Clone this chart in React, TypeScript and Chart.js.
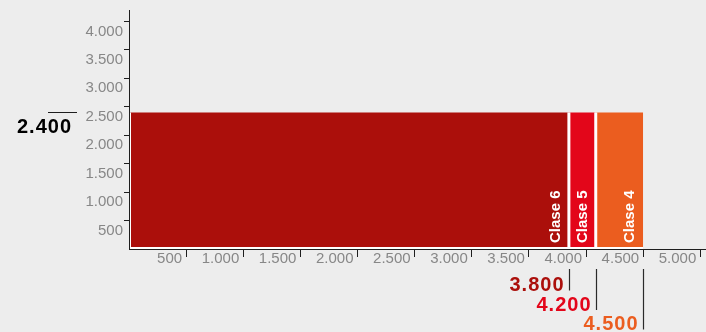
import React, { useEffect, useRef } from 'react';
import { Chart, registerables } from 'chart.js';

Chart.register(...registerables);

// ---- data ----
const classNames = ['Clase 6', 'Clase 5', 'Clase 4'];
const classStarts = [0, 3850, 4085];
const classEnds = [3850, 4085, 4500];
const classEndLabels = ['3.800', '4.200', '4.500'];
const classColors = ['#AB0F0B', '#E3061A', '#EB5D1F'];
const barHeight = 2400;
const barHeightLabel = '2.400';

const xTickValues = [500, 1000, 1500, 2000, 2500, 3000, 3500, 4000, 4500, 5000];
const xTickLabels = ['500', '1.000', '1.500', '2.000', '2.500', '3.000', '3.500', '4.000', '4.500', '5.000'];
const yTickValues = [500, 1000, 1500, 2000, 2500, 3000, 3500, 4000];
const yTickLabels = ['500', '1.000', '1.500', '2.000', '2.500', '3.000', '3.500', '4.000'];

const BG = '#EDEDED';
const TICK_GREY = '#878787';
const AXIS = '#1e1e1e';
const FONT = '"Liberation Sans", Arial, Helvetica, sans-serif';

const annotations = {
  id: 'annotations',
  beforeDraw(chart: any) {
    const { ctx, width, height } = chart;
    ctx.save();
    ctx.fillStyle = BG;
    ctx.fillRect(0, 0, width, height);
    ctx.restore();
  },
  afterDatasetsDraw(chart: any) {
    const { ctx } = chart;
    const xs = chart.scales.x;
    const ys = chart.scales.y;
    const y0 = ys.getPixelForValue(0);
    ctx.save();
    ctx.fillStyle = '#ffffff';
    ctx.font = `bold 15px ${FONT}`;
    ctx.textAlign = 'left';
    ctx.textBaseline = 'middle';
    classNames.forEach((name, i) => {
      const px = xs.getPixelForValue(classEnds[i]) - 13;
      ctx.save();
      ctx.translate(px, y0 - 6);
      ctx.rotate(-Math.PI / 2);
      ctx.fillText(name, 0, 0);
      ctx.restore();
    });
    ctx.restore();
  },
  afterDraw(chart: any) {
    const { ctx, chartArea } = chart;
    const xs = chart.scales.x;
    const ys = chart.scales.y;
    ctx.save();
    // height annotation on the left
    const hy = Math.round(ys.getPixelForValue(barHeight)) + 0.5;
    ctx.strokeStyle = AXIS;
    ctx.lineWidth = 1;
    ctx.beginPath();
    ctx.moveTo(chartArea.left - 81, hy);
    ctx.lineTo(chartArea.left - 52, hy);
    ctx.stroke();
    ctx.font = `bold 20px ${FONT}`;
    (ctx as any).letterSpacing = '1px';
    ctx.fillStyle = '#000000';
    ctx.textAlign = 'right';
    ctx.textBaseline = 'middle';
    ctx.fillText(barHeightLabel, chartArea.left - 57, hy + 15);

    // class boundary annotations below the axis
    const base = chartArea.bottom;
    classEnds.forEach((v, i) => {
      const px = Math.round(xs.getPixelForValue(v)) + 0.5;
      const ty = base + 36.5 + i * 19.5;
      ctx.strokeStyle = '#2a2a2a';
      ctx.lineWidth = 1.2;
      ctx.beginPath();
      ctx.moveTo(px, base + 20);
      ctx.lineTo(px, ty + 5);
      ctx.stroke();
      ctx.fillStyle = classColors[i];
      ctx.fillText(classEndLabels[i], px - 5, ty);
    });
    ctx.restore();
  },
};

export default function App() {
  const ref = useRef<HTMLCanvasElement | null>(null);

  useEffect(() => {
    document.body.style.margin = '0';
    document.body.style.background = BG;
    if (!ref.current) return;

    const rectDatasets = classNames.map((name, i) => ({
      label: name,
      data: [
        { x: classStarts[i], y: 0 },
        { x: classStarts[i], y: barHeight },
        { x: classEnds[i], y: barHeight },
        { x: classEnds[i], y: 0 },
      ],
      fill: 'origin',
      backgroundColor: classColors[i],
      borderColor: 'rgba(0,0,0,0)',
      borderWidth: 0,
      pointRadius: 0,
      tension: 0,
      order: 1,
    }));

    const separatorDatasets = classEnds.slice(0, -1).map((v) => ({
      label: 'sep',
      data: [
        { x: v, y: 0 },
        { x: v, y: barHeight },
      ],
      fill: false,
      borderColor: '#ffffff',
      borderWidth: 3,
      pointRadius: 0,
      tension: 0,
      order: 0,
    }));

    const baseline = {
      label: 'base',
      data: [
        { x: classStarts[0], y: barHeight },
        { x: classStarts[0], y: 0 },
        { x: classEnds[classEnds.length - 1], y: 0 },
      ],
      fill: false,
      borderColor: '#ffffff',
      borderWidth: 4,
      pointRadius: 0,
      tension: 0,
      order: 0,
    };

    const chart = new Chart(ref.current, {
      type: 'line',
      data: { datasets: [...rectDatasets, ...separatorDatasets, baseline] as any },
      options: {
        responsive: false,
        animation: false,
        devicePixelRatio: 1,
        layout: { padding: { top: 9, left: 0, right: 0, bottom: 0 } },
        plugins: { legend: { display: false }, tooltip: { enabled: false } },
        scales: {
          x: {
            type: 'linear',
            min: 0,
            max: 5050,
            afterBuildTicks: (scale: any) => {
              scale.ticks = xTickValues.map((v) => ({ value: v }));
            },
            afterFit: (scale: any) => {
              scale.height = 83;
            },
            grid: {
              drawOnChartArea: false,
              drawTicks: true,
              tickLength: 8,
              tickColor: AXIS,
              tickWidth: 1,
            },
            border: { display: true, color: AXIS, width: 1, z: 1 },
            ticks: {
              autoSkip: false,
              maxRotation: 0,
              align: 'end',
              labelOffset: -4,
              padding: -7.5,
              color: TICK_GREY,
              font: { family: FONT, size: 15 },
              callback: (value: any) => xTickLabels[xTickValues.indexOf(Number(value))] ?? '',
            },
          },
          y: {
            type: 'linear',
            min: 0,
            max: 4200,
            afterBuildTicks: (scale: any) => {
              scale.ticks = yTickValues.map((v) => ({ value: v }));
            },
            afterFit: (scale: any) => {
              scale.width = 129;
            },
            grid: {
              drawOnChartArea: false,
              drawTicks: true,
              tickLength: 5,
              tickColor: AXIS,
              tickWidth: 1,
            },
            border: { display: true, color: AXIS, width: 1, z: 1 },
            ticks: {
              autoSkip: false,
              padding: 1,
              labelOffset: 10,
              color: TICK_GREY,
              font: { family: FONT, size: 15 },
              callback: (value: any) => yTickLabels[yTickValues.indexOf(Number(value))] ?? '',
            },
          },
        },
      } as any,
      plugins: [annotations],
    });

    return () => chart.destroy();
  }, []);

  return (
    <div style={{ width: 706, height: 332 }}>
      <canvas ref={ref} width={706} height={332} style={{ display: 'block' }} />
    </div>
  );
}
